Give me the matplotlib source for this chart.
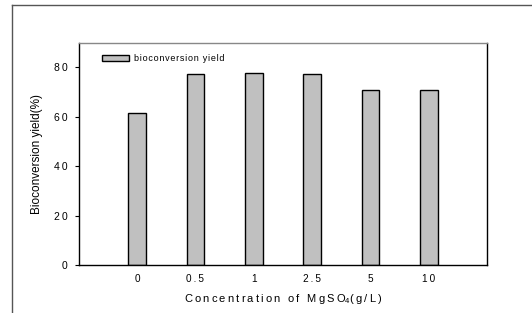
import matplotlib
matplotlib.use("Agg")
import matplotlib.pyplot as plt
from matplotlib.lines import Line2D

categories = ["0", "0.5", "1", "2.5", "5", "10"]
yield_values = [61.7, 77.3, 77.7, 77.2, 70.9, 70.7]
yticks = [0, 20, 40, 60, 80]

plt.rcParams['font.family'] = ['Liberation Sans', 'DejaVu Sans']
plt.rcParams['mathtext.fontset'] = 'custom'
plt.rcParams['mathtext.rm'] = 'Liberation Sans'
plt.rcParams['mathtext.it'] = 'Liberation Sans'

def spaced(s, sep='\u2009'):
    return sep.join(list(s))

fig = plt.figure(figsize=(5.32, 3.13), dpi=100)
W, H = 532, 313
ax_l, ax_r, ax_t, ax_b = 78.7, 487.3, 43.3, 265.3
ax = fig.add_axes([ax_l / W, 1 - ax_b / H, (ax_r - ax_l) / W, (ax_b - ax_t) / H])

x = list(range(len(categories)))
ax.bar(x, yield_values, width=0.3, color='#c0c0c0', edgecolor='black',
       linewidth=1.0, label=spaced('bioconversion yield', '\u200a'))
ax.set_xlim(-1, 6)
ax.set_ylim(0, 89.7)
ax.set_xticks(x)
ax.set_xticklabels([spaced(c) for c in categories], fontsize=7.2)
ax.tick_params(axis='x', length=0, pad=6)
ax.set_yticks(yticks)
ax.set_yticklabels([spaced(str(t)) for t in yticks], fontsize=7.5)
ax.tick_params(axis='y', direction='out', length=3, width=0.8, pad=5)
for sp in ax.spines.values():
    sp.set_linewidth(1.0)
ax.spines['top'].set_color('#888888')
ax.spines['right'].set_color('black')

ax.set_xlabel(spaced('Concentration of MgSO') + '$_4$' + spaced('(g/L)'), fontsize=8, labelpad=6)
ax.set_ylabel('Bioconversion yield(%)', fontsize=8.5, labelpad=8)

leg = ax.legend(loc='upper left', frameon=False, fontsize=6.5,
                handlelength=3.0, handleheight=0.55, handletextpad=0.6,
                borderpad=0, borderaxespad=0,
                bbox_to_anchor=((102 - ax_l) / (ax_r - ax_l), (ax_b - 54) / (ax_b - ax_t)))

# outer frame lines
fig.add_artist(Line2D([12 / W, 12 / W], [0, 1 - 5 / H], color='#555555', lw=1.0, transform=fig.transFigure))
fig.add_artist(Line2D([12 / W, 1], [1 - 5 / H, 1 - 5 / H], color='#555555', lw=1.0, transform=fig.transFigure))

fig.savefig('out.png', dpi=100)
